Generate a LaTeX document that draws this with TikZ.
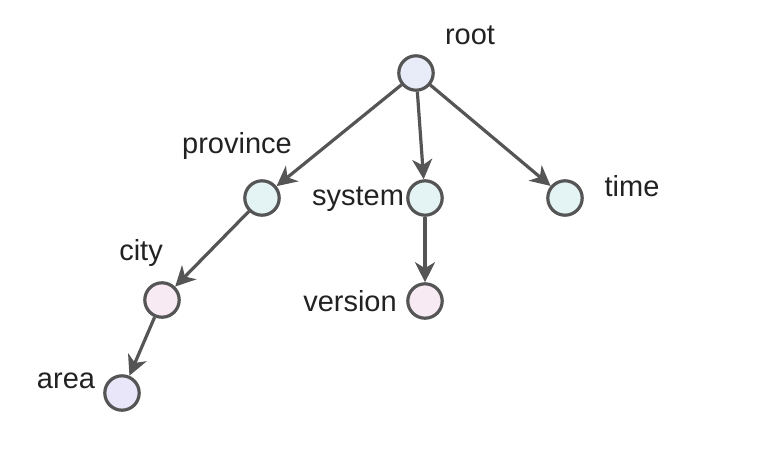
\documentclass[tikz,border=0pt]{standalone}
\usepackage{fontspec}
\setmainfont{Liberation Sans}
\usetikzlibrary{arrows.meta}
\definecolor{edgegray}{HTML}{555555}
\definecolor{textgray}{HTML}{222222}
\definecolor{rootfill}{HTML}{E8ECF8}
\definecolor{cyanfill}{HTML}{E4F3F3}
\definecolor{pinkfill}{HTML}{F7EAF2}
\definecolor{lavfill}{HTML}{E8E6F8}
\tikzset{
  vertex/.style = {draw=edgegray, circle, line width=1.6pt, inner sep=0pt, minimum size=17.2pt},
  lbl/.style = {text=textgray, font=\fontsize{14.5}{17}\selectfont, inner sep=0pt},
  arc/.style = {draw=edgegray, line width=1.6pt, -{Stealth[length=10pt, width=10pt, inset=3pt]}}
}
\begin{document}
\begin{tikzpicture}[x=0.5pt, y=-0.5pt]
		\useasboundingbox (0,0) rectangle (782,456);
		\node[vertex, fill = rootfill] (root)     at (416,73)  {};
		\node[vertex, fill = cyanfill] (province) at (262,198) {};
		\node[vertex, fill = cyanfill] (system)   at (425,198) {};
		\node[vertex, fill = cyanfill] (time)     at (565,198) {};
		\node[vertex, fill = pinkfill] (city)     at (162,300) {};
		\node[vertex, fill = pinkfill] (version)  at (425,301) {};
		\node[vertex, fill = lavfill]  (area)     at (122,393) {};
		
		\node[lbl] (rootlbl)     at (470,35)  {root};
		\node[lbl] (provincelbl) at (237,146) {province};
		\node[lbl] (systemlbl)   at (358,199) {system};
		\node[lbl] (timelbl)     at (632,186) {time};
		\node[lbl] (citylbl)     at (141,253) {city};
		\node[lbl] (versionlbl)  at (350,301) {version};
		\node[lbl] (arealbl)     at (66,381)  {area};
		
		\draw[arc] (root) -- (province);
		\draw[arc] (root) -- (system);
		\draw[arc] (root) -- (time);
		\draw[arc] (province) -- (city);
		\draw[arc] (system) -- (version);
		\draw[arc] (city) -- (area);
	\end{tikzpicture}
\end{document}
